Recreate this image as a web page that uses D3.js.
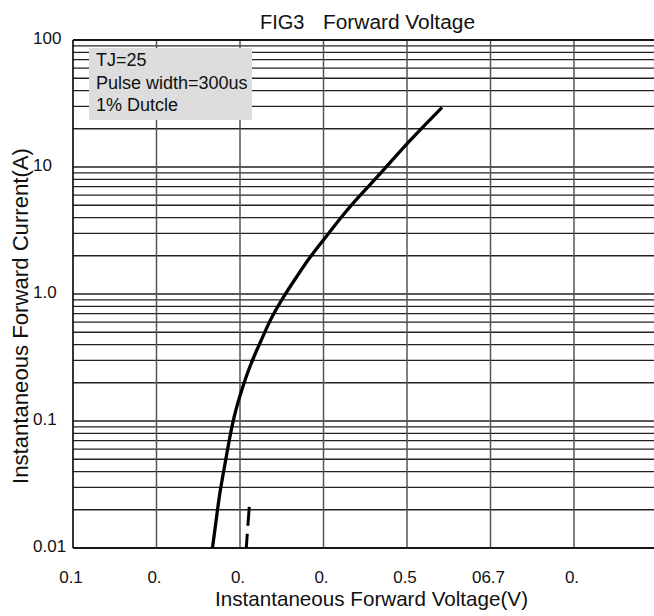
<!DOCTYPE html>
<html>
<head>
<meta charset="utf-8">
<script src="https://cdn.jsdelivr.net/npm/d3@7"></script>
<style>
	body { margin: 0; background: #fff; }
	svg { display: block; font-family: "Liberation Sans", Arial, sans-serif; }
</style>
</head>
<body>
<div id="chart"></div>
<script>
//Data
var forwardVoltage = [0.267, 0.271, 0.275, 0.280, 0.285, 0.290, 0.296, 0.302, 0.310, 0.320, 0.331, 0.336, 0.352, 0.368, 0.384, 0.402, 0.423, 0.444, 0.474, 0.500, 0.542];
var forwardCurrent = [0.010, 0.0156, 0.0254, 0.0388, 0.0591, 0.090, 0.130, 0.175, 0.252, 0.362, 0.521, 0.624, 0.953, 1.37, 1.97, 2.76, 4.19, 6.02, 9.77, 15.4, 29.5];
var dashVoltage = [0.3111, 0.3075];
var dashCurrent = [0.0211, 0.01];

var xTicks = [0.1, 0.2, 0.3, 0.4, 0.5, 0.6, 0.7];
var xTickLabels = ["0.1", "0.", "0.", "0.", "0.5", "06.7", "0."];
var yTicks = [100, 10, 1, 0.1, 0.01];
var yTickLabels = ["100", "10", "1.0", "0.1", "0.01"];
var noteLines = ["TJ=25", "Pulse width=300us", "1% Dutcle"];

//SVG setup
var margin = { top: 40, left: 73 };
var width = 584.5;
var height = 508;

var svg = d3.select("#chart")
	.append("svg")
	.attr("width", 654)
	.attr("height", 616);

var g = svg.append("g")
	.attr("transform", "translate(" + margin.left + "," + margin.top + ")");

//Scales
var x = d3.scaleLinear()
	.domain([0.1, 0.8])
	.range([0, width]);

var y = d3.scaleLog()
	.domain([0.01, 100])
	.range([height, 0]);

//Horizontal grid: every 1..9 step of each decade
var hLines = [];
[0.01, 0.1, 1, 10].forEach(function(dec) {
	for (var k = 1; k <= 9; k++) hLines.push(dec * k);
});
hLines.push(100);

g.selectAll(".hgrid")
	.data(hLines)
	.enter()
	.append("line")
	.attr("class", "hgrid")
	.attr("x1", 0)
	.attr("x2", width)
	.attr("y1", function(d) { return y(d); })
	.attr("y2", function(d) { return y(d); })
	.attr("stroke", "#222")
	.attr("stroke-width", 1.3);

//Vertical grid
g.selectAll(".vgrid")
	.data(xTicks.slice(1).concat([0.8]))
	.enter()
	.append("line")
	.attr("class", "vgrid")
	.attr("x1", function(d) { return x(d); })
	.attr("x2", function(d) { return x(d); })
	.attr("y1", 0)
	.attr("y2", height)
	.attr("stroke", "#555")
	.attr("stroke-width", 1.5);

//Frame lines
g.append("line")
	.attr("x1", 0).attr("x2", 0)
	.attr("y1", 0).attr("y2", height)
	.attr("stroke", "#000").attr("stroke-width", 1.6);
g.append("line")
	.attr("x1", 0).attr("x2", width)
	.attr("y1", height).attr("y2", height)
	.attr("stroke", "#000").attr("stroke-width", 1.6);
g.append("line")
	.attr("x1", 0).attr("x2", width)
	.attr("y1", 0).attr("y2", 0)
	.attr("stroke", "#000").attr("stroke-width", 1.6);

//Note box
var note = g.append("g")
	.attr("transform", "translate(16,8)");
note.append("rect")
	.attr("width", 163)
	.attr("height", 72)
	.attr("fill", "#dddddd");
note.selectAll("text")
	.data(noteLines)
	.enter()
	.append("text")
	.attr("x", 7)
	.attr("y", function(d, i) { return 18 + i * 22.7; })
	.attr("font-size", 18)
	.attr("fill", "#111")
	.text(function(d) { return d; });

//Curve (smoothed through the read points)
var pts = forwardVoltage.map(function(v, i) { return [v, forwardCurrent[i]]; });
var line = d3.line()
	.x(function(d) { return x(d[0]); })
	.y(function(d) { return y(d[1]); })
	.curve(d3.curveBasis);

g.append("path")
	.datum(pts)
	.attr("d", line)
	.attr("fill", "none")
	.attr("stroke", "#000")
	.attr("stroke-width", 3.3);

//Short dashed line near the bottom
var dashPts = dashVoltage.map(function(v, i) { return [v, dashCurrent[i]]; });
g.append("path")
	.datum(dashPts)
	.attr("d", d3.line().x(function(d) { return x(d[0]); }).y(function(d) { return y(d[1]); }))
	.attr("fill", "none")
	.attr("stroke", "#000")
	.attr("stroke-width", 3)
	.attr("stroke-dasharray", "19,8");

//Y tick labels
g.selectAll(".ylab")
	.data(yTicks)
	.enter()
	.append("text")
	.attr("class", "ylab")
	.attr("x", -40)
	.attr("y", function(d) { return y(d) + 4; })
	.attr("font-size", 17)
	.attr("fill", "#111")
	.text(function(d, i) { return yTickLabels[i]; });

//X tick labels
g.selectAll(".xlab")
	.data(xTicks)
	.enter()
	.append("text")
	.attr("class", "xlab")
	.attr("x", function(d) { return x(d) - 2; })
	.attr("y", height + 35)
	.attr("text-anchor", "middle")
	.attr("font-size", 17)
	.attr("fill", "#111")
	.text(function(d, i) { return xTickLabels[i]; });

//Title
svg.append("text")
	.attr("x", 260)
	.attr("y", 29)
	.attr("font-size", 20)
	.attr("fill", "#111")
	.text("FIG3");
svg.append("text")
	.attr("x", 323)
	.attr("y", 29)
	.attr("font-size", 20)
	.attr("fill", "#111")
	.attr("textLength", 152)
	.attr("lengthAdjust", "spacingAndGlyphs")
	.text("Forward Voltage");

//Axis titles
svg.append("text")
	.attr("x", 215)
	.attr("y", 606)
	.attr("font-size", 21)
	.attr("fill", "#111")
	.attr("textLength", 313)
	.attr("lengthAdjust", "spacingAndGlyphs")
	.text("Instantaneous Forward Voltage(V)");

svg.append("text")
	.attr("transform", "translate(28,484) rotate(-90)")
	.attr("font-size", 22)
	.attr("fill", "#111")
	.attr("textLength", 336)
	.attr("lengthAdjust", "spacingAndGlyphs")
	.text("Instantaneous Forward Current(A)");
</script>
</body>
</html>
